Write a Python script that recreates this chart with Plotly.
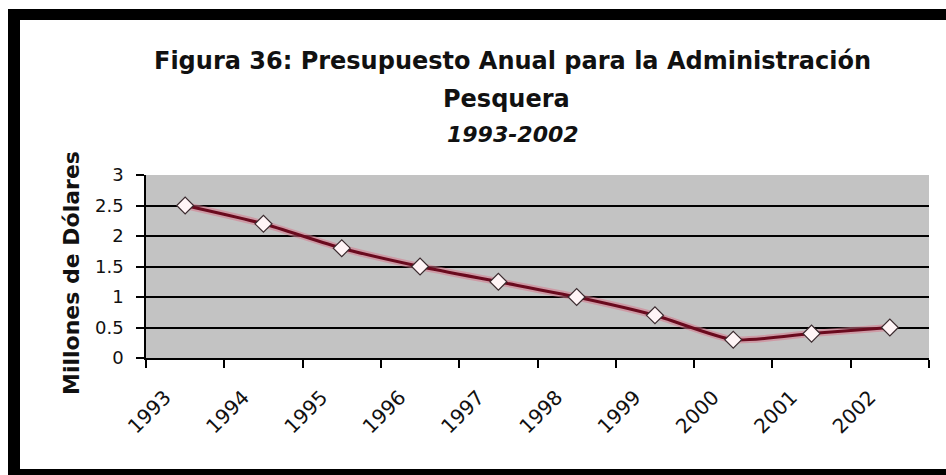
import plotly.graph_objects as go

# Annual budget for fisheries administration (millions of USD)
years = ["1993", "1994", "1995", "1996", "1997", "1998", "1999", "2000", "2001", "2002"]
budget = [2.5, 2.2, 1.8, 1.5, 1.25, 1.0, 0.7, 0.3, 0.4, 0.5]
y_ticks = [0, 0.5, 1, 1.5, 2, 2.5, 3]
y_tick_text = ["0", "0.5", "1", "1.5", "2", "2.5", "3"]

W, H = 946, 475
L, R, T, B = 146, 17, 175, 117
PW, PH = W - L - R, H - T - B


def px_x(p):
    return (p - L) / PW


def px_y(p):
    return (H - B - p) / PH


fig = go.Figure()

# soft halo under the line
fig.add_trace(go.Scatter(
    x=years, y=budget, mode="lines",
    line=dict(color="rgba(214,120,140,0.55)", width=7, shape="spline", smoothing=0.6),
    hoverinfo="skip", showlegend=False,
))
fig.add_trace(go.Scatter(
    x=years, y=budget, mode="lines+markers",
    line=dict(color="#6a0a1e", width=3, shape="spline", smoothing=0.6),
    marker=dict(symbol="diamond", size=13, color="#fff4f6",
                line=dict(color="#3a2a2e", width=1.2)),
    showlegend=False,
))

font_title = "DejaVu Sans"
fig.update_layout(
    width=W, height=H,
    margin=dict(l=L, r=R, t=T, b=B, pad=0),
    paper_bgcolor="white",
    plot_bgcolor="#c3c3c3",
    showlegend=False,
    xaxis=dict(
        type="category", range=[-0.5, 9.5],
        showgrid=False, zeroline=False,
        showline=True, linecolor="black", linewidth=1.5,
        ticks="outside", tickson="boundaries", ticklen=8, tickcolor="black", tickwidth=1.5,
        tickangle=-45, ticklabelstandoff=18, ticklabelshift=-20,
        tickfont=dict(family="DejaVu Sans", size=20, color="#111"),
    ),
    yaxis=dict(
        range=[0, 3], tickvals=y_ticks, ticktext=y_tick_text,
        showgrid=True, gridcolor="black", gridwidth=1.5,
        zeroline=False,
        showline=True, linecolor="black", linewidth=1.5,
        ticks="outside", ticklen=8, tickcolor="black", tickwidth=1.5,
        ticklabelstandoff=9,
        tickfont=dict(family="DejaVu Sans", size=18, color="#111"),
    ),
)

# Titles
fig.add_annotation(text="<b>Figura 36: Presupuesto Anual para la Administración</b>",
                   xref="paper", yref="paper", x=px_x(512), y=px_y(61),
                   showarrow=False, xanchor="center", yanchor="middle",
                   font=dict(family=font_title, size=24, color="#111"))
fig.add_annotation(text="<b>Pesquera</b>",
                   xref="paper", yref="paper", x=px_x(506), y=px_y(99),
                   showarrow=False, xanchor="center", yanchor="middle",
                   font=dict(family=font_title, size=24, color="#111"))
fig.add_annotation(text="<b><i>1993-2002</i></b>",
                   xref="paper", yref="paper", x=px_x(513), y=px_y(134),
                   showarrow=False, xanchor="center", yanchor="middle",
                   font=dict(family=font_title, size=22, color="#111"))
fig.add_annotation(text="<b>Millones de Dólares</b>",
                   xref="paper", yref="paper", x=px_x(71), y=px_y(273),
                   showarrow=False, xanchor="center", yanchor="middle", textangle=-90,
                   font=dict(family=font_title, size=22, color="#111"))

# Black frame around the chart
frame = [
    (8, 9, 946, 20),     # top band
    (8, 9, 20, 475),     # left band
    (8, 469, 946, 475),  # bottom band
]
for x0, y0, x1, y1 in frame:
    fig.add_shape(type="rect", xref="paper", yref="paper",
                  x0=px_x(x0), x1=px_x(x1), y0=px_y(y0), y1=px_y(y1),
                  fillcolor="black", line=dict(width=0), layer="above")

fig.write_html("out.html")
